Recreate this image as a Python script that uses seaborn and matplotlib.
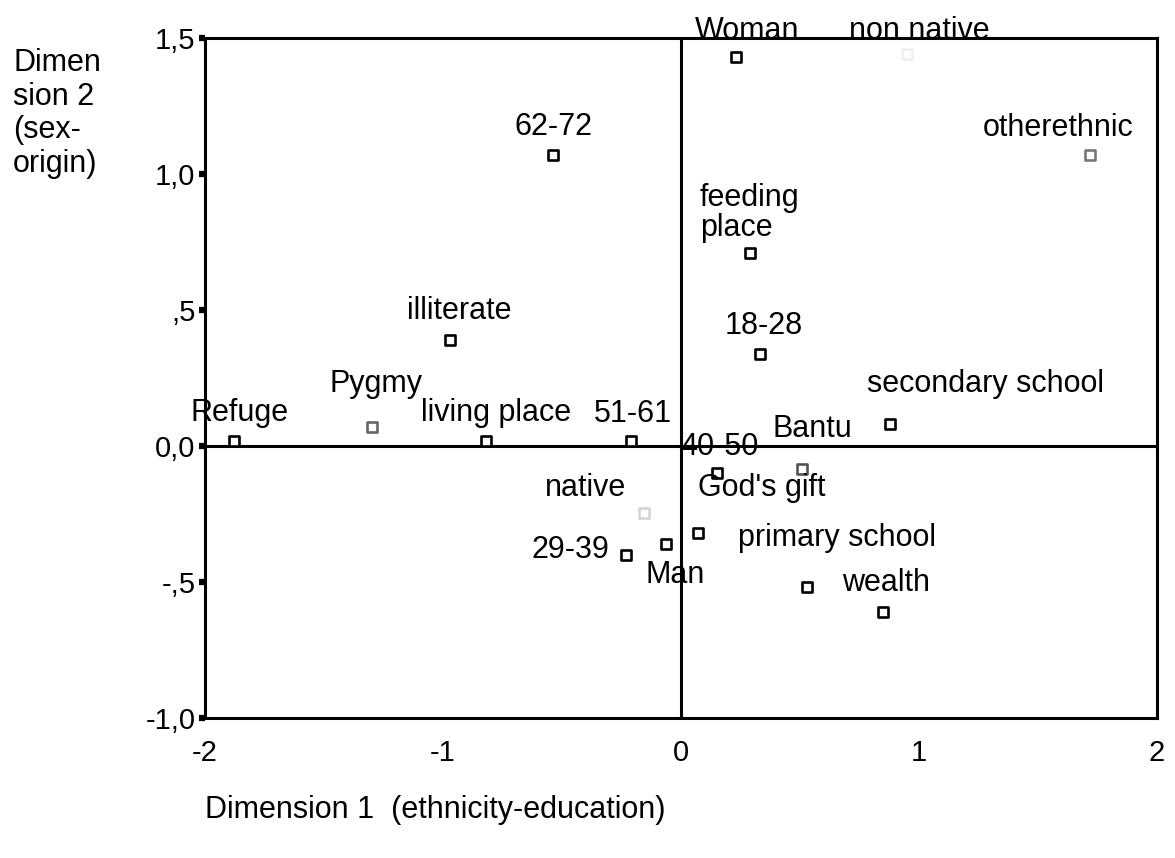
import matplotlib
matplotlib.use("Agg")
import matplotlib.pyplot as plt
import seaborn as sns
import pandas as pd

# ---- data ----
categories = ["Woman", "non native", "otherethnic", "62-72", "feeding\nplace",
              "18-28", "illiterate", "Pygmy", "Refuge", "living place",
              "51-61", "secondary school", "Bantu", "40-50", "God's gift",
              "native", "Man", "29-39", "primary school", "wealth"]
dim1 = [0.23, 0.95, 1.72, -0.54, 0.29,
        0.33, -0.97, -1.30, -1.88, -0.82,
        -0.21, 0.88, 0.51, 0.15, 0.07,
        -0.155, -0.063, -0.23, 0.53, 0.85]
dim2 = [1.43, 1.44, 1.07, 1.07, 0.71,
        0.34, 0.39, 0.07, 0.02, 0.02,
        0.02, 0.08, -0.085, -0.10, -0.32,
        -0.245, -0.36, -0.40, -0.52, -0.61]
x_ticks = [-2, -1, 0, 1, 2]
x_tick_labels = ["-2", "-1", "0", "1", "2"]
y_ticks = [-1.0, -0.5, 0.0, 0.5, 1.0, 1.5]
y_tick_labels = ["-1,0", "-,5", "0,0", ",5", "1,0", "1,5"]

# ---- layout (label offsets in pixels, marker tones) ----
label_offsets = {
    "Woman": (11, 26), "non native": (12, 23), "otherethnic": (-32, 27),
    "62-72": (1, 28), "feeding\nplace": (-50, 40), "18-28": (4, 28),
    "illiterate": (9, 29), "Pygmy": (4, 43), "Refuge": (6, 28),
    "living place": (10, 28), "51-61": (2, 27), "secondary school": (95, 40),
    "Bantu": (10, 40), "40-50": (3, 26), "God's gift": (64, 45),
    "native": (-59, 25), "Man": (9, -31), "29-39": (-56, 5),
    "primary school": (30, 49), "wealth": (3, 29),
}
tone = {"Pygmy": "#666666", "otherethnic": "#777777", "Bantu": "#555555",
        "native": "#d4d4d4", "non native": "#f0f0f0"}

df = pd.DataFrame({"label": categories, "d1": dim1, "d2": dim2})
df["edge"] = [tone.get(c, "black") for c in categories]

sns.set_theme(style="white")
plt.rcParams["font.family"] = ["Liberation Sans", "DejaVu Sans"]
plt.rcParams["text.color"] = "black"
plt.rcParams["xtick.color"] = "black"
plt.rcParams["ytick.color"] = "black"

fig = plt.figure(figsize=(11.75, 8.58), dpi=100)
ax = fig.add_axes([0.1745, 0.1632, 0.9847 - 0.1745, 0.9557 - 0.1632])

sns.scatterplot(data=df, x="d1", y="d2", marker="s", s=52,
                facecolor="white", edgecolor=df["edge"].tolist(),
                linewidth=1.9, ax=ax, zorder=4, legend=False)

ax.axhline(0, color="black", lw=2.2, zorder=2)
ax.axvline(0, color="black", lw=2.2, zorder=2)

for lab, xv, yv in zip(categories, dim1, dim2):
    dx, dy = label_offsets[lab]
    ha = "left" if lab == "feeding\nplace" else "center"
    ax.annotate(lab, (xv, yv), xytext=(dx, dy), textcoords="offset pixels",
                ha=ha, va="center", fontsize=22, color="black",
                linespacing=1.0, annotation_clip=False, zorder=5)

ax.set_xlim(-2, 2)
ax.set_ylim(-1.0, 1.5)
ax.set_xticks(x_ticks)
ax.set_xticklabels(x_tick_labels)
ax.set_yticks(y_ticks)
ax.set_yticklabels(y_tick_labels)
ax.tick_params(axis="x", length=0, pad=15, labelsize=21, colors="black")
ax.tick_params(axis="y", direction="out", length=4, width=4.5, pad=3,
               labelsize=21, colors="black", left=True)
for sp in ax.spines.values():
    sp.set_visible(True)
    sp.set_color("black")
    sp.set_linewidth(2.2)
    sp.set_zorder(6)
ax.set_xlabel("")
ax.set_ylabel("")

fig.text(13 / 1175, 1 - 48 / 858, "Dimen\nsion 2\n(sex-\norigin)", ha="left",
         va="top", fontsize=22, linespacing=1.16, color="black")
fig.text(205 / 1175, 1 - 810 / 858, "Dimension 1  (ethnicity-education)",
         ha="left", va="center", fontsize=22, color="black")

fig.savefig("out.png", dpi=100, facecolor="white")
